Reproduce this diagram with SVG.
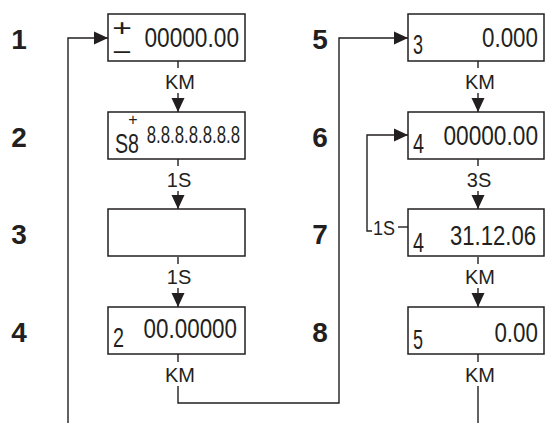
<svg xmlns="http://www.w3.org/2000/svg" width="546" height="423" viewBox="0 0 546 423">
<style>
.box{fill:#fff;stroke:#231f20;stroke-width:1.5}
.ln{fill:none;stroke:#231f20;stroke-width:1.4}
.num{font-family:"Liberation Sans",Arial,sans-serif;font-weight:bold;font-size:28px;fill:#231f20;text-anchor:middle}
.lbl{font-family:"Liberation Sans",Arial,sans-serif;font-size:20px;fill:#231f20;text-anchor:middle}
.big{font-family:"Liberation Sans",Arial,sans-serif;font-size:28px;fill:#231f20}
.val{font-family:"Liberation Sans",Arial,sans-serif;font-size:28px;fill:#231f20;text-anchor:end}
.mid{font-family:"Liberation Sans",Arial,sans-serif;font-size:24px;fill:#231f20;text-anchor:end}
</style>
<defs>
<marker id="ah" markerUnits="userSpaceOnUse" markerWidth="14" markerHeight="14" refX="14" refY="7" orient="auto">
<path d="M0,0.5 L14,7 L0,13.5 z" fill="#231f20"/>
</marker>
</defs>
<rect width="546" height="423" fill="#fff"/>
<g id="step-numbers">
<text class="num" x="19" y="49">1</text>
<text class="num" x="19" y="147">2</text>
<text class="num" x="19" y="244">3</text>
<text class="num" x="19" y="342">4</text>
<text class="num" x="320" y="49">5</text>
<text class="num" x="320" y="147">6</text>
<text class="num" x="320" y="244">7</text>
<text class="num" x="320" y="342">8</text>
</g>
<g id="connectors">
<path class="ln" d="M178,61 V68"/>
<text class="lbl" x="180" y="89">KM</text>
<path class="ln" d="M178,93 V112" marker-end="url(#ah)"/>
<path class="ln" d="M178,159 V166"/>
<text class="lbl" x="179" y="187">1S</text>
<path class="ln" d="M178,191 V209" marker-end="url(#ah)"/>
<path class="ln" d="M178,257 V264"/>
<text class="lbl" x="179" y="284">1S</text>
<path class="ln" d="M178,288 V307" marker-end="url(#ah)"/>
<path class="ln" d="M178,354 V362"/>
<text class="lbl" x="180" y="382">KM</text>
<path class="ln" d="M178,386 V403 H339 V38 H408" marker-end="url(#ah)"/>
<path class="ln" d="M68,423 V38 H108" marker-end="url(#ah)"/>
<path class="ln" d="M478,61 V68"/>
<text class="lbl" x="480" y="89">KM</text>
<path class="ln" d="M478,93 V112" marker-end="url(#ah)"/>
<path class="ln" d="M478,159 V166"/>
<text class="lbl" x="479" y="187">3S</text>
<path class="ln" d="M478,191 V209" marker-end="url(#ah)"/>
<path class="ln" d="M478,257 V264"/>
<text class="lbl" x="480" y="284">KM</text>
<path class="ln" d="M478,288 V307" marker-end="url(#ah)"/>
<path class="ln" d="M478,354 V362"/>
<text class="lbl" x="480" y="382">KM</text>
<path class="ln" d="M478,386 V423"/>
<path class="ln" d="M372,231 H367 V135 H408" marker-end="url(#ah)"/>
<text class="lbl" x="384" y="235" textLength="22" lengthAdjust="spacingAndGlyphs">1S</text>
<path class="ln" d="M398,227 H408"/>
</g>
<g id="node1">
<rect class="box" x="108" y="14" width="137" height="47"/>
<text class="big" text-anchor="middle" transform="translate(122,35.5) scale(1.2,0.85)" font-size="30">+</text>
<text class="big" text-anchor="middle" transform="translate(122,59.5) scale(1.2,0.85)" font-size="30">−</text>
<text class="val" transform="translate(239,47) scale(0.81,1)">00000.00</text>
</g>
<g id="node2">
<rect class="box" x="108" y="112" width="137" height="47"/>
<text class="big" x="115" y="153" textLength="24" lengthAdjust="spacingAndGlyphs" style="font-size:27px">S8</text>
<text class="big" text-anchor="middle" x="133" y="125" style="font-size:16px">+</text>
<text class="mid" transform="translate(240,143) scale(0.7,1)">8.8.8.8.8.8.8</text>
</g>
<g id="node3">
<rect class="box" x="108" y="209" width="137" height="47"/>
</g>
<g id="node4">
<rect class="box" x="108" y="307" width="137" height="47"/>
<text class="big" x="113" y="347" textLength="11" lengthAdjust="spacingAndGlyphs">2</text>
<text class="val" transform="translate(237,338) scale(0.8,1)">00.00000</text>
</g>
<g id="node5">
<rect class="box" x="408" y="14" width="136" height="47"/>
<text class="big" x="413" y="54" textLength="10" lengthAdjust="spacingAndGlyphs">3</text>
<text class="val" transform="translate(538,47) scale(0.8,1)">0.000</text>
</g>
<g id="node6">
<rect class="box" x="408" y="112" width="136" height="47"/>
<text class="big" x="413" y="153" textLength="11" lengthAdjust="spacingAndGlyphs">4</text>
<text class="val" transform="translate(538,145) scale(0.81,1)">00000.00</text>
</g>
<g id="node7">
<rect class="box" x="408" y="209" width="136" height="47"/>
<text class="big" x="413" y="252" textLength="11" lengthAdjust="spacingAndGlyphs">4</text>
<text class="val" transform="translate(536,245) scale(0.79,1)">31.12.06</text>
</g>
<g id="node8">
<rect class="box" x="408" y="307" width="136" height="47"/>
<text class="big" x="413" y="349" textLength="10" lengthAdjust="spacingAndGlyphs">5</text>
<text class="val" transform="translate(538,342) scale(0.8,1)">0.00</text>
</g>
</svg>
